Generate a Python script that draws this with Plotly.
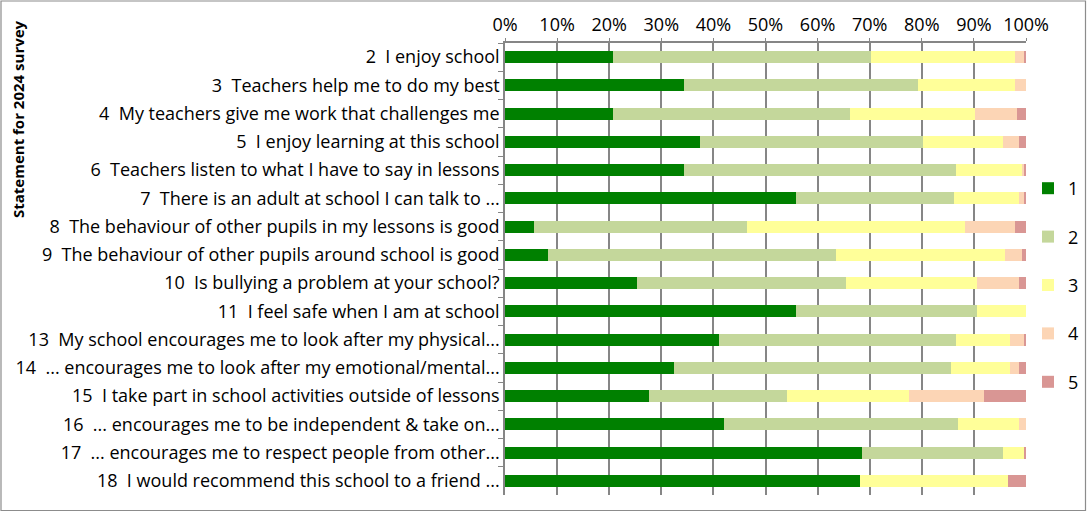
import plotly.graph_objects as go

statements = [
    "2  I enjoy school",
    "3  Teachers help me to do my best",
    "4  My teachers give me work that challenges me",
    "5  I enjoy learning at this school",
    "6  Teachers listen to what I have to say in lessons",
    "7  There is an adult at school I can talk to ...",
    "8  The behaviour of other pupils in my lessons is good",
    "9  The behaviour of other pupils around school is good",
    "10  Is bullying a problem at your school?",
    "11  I feel safe when I am at school",
    "13  My school encourages me to look after my physical...",
    "14  ... encourages me to look after my emotional/mental...",
    "15  I take part in school activities outside of lessons",
    "16  ... encourages me to be independent & take on...",
    "17  ... encourages me to respect people from other...",
    "18  I would recommend this school to a friend ...",
]

resp_1 = [20.7, 34.3, 20.7, 37.4, 34.3, 55.8, 5.5, 8.2, 25.3, 55.8, 41.0, 32.4, 27.6, 42.0, 68.5, 68.1]
resp_2 = [49.5, 45.0, 45.5, 42.8, 52.2, 30.4, 40.9, 55.3, 40.1, 34.8, 45.5, 53.2, 26.5, 44.9, 27.1, 0.0]
resp_3 = [27.7, 18.6, 24.0, 15.4, 12.7, 12.5, 41.9, 32.5, 25.2, 9.4, 10.4, 11.3, 23.4, 11.8, 4.0, 28.4]
resp_4 = [1.7, 2.1, 8.1, 3.1, 0.4, 0.9, 9.6, 3.2, 8.1, 0.0, 2.7, 1.8, 14.4, 1.3, 0.0, 0.0]
resp_5 = [0.4, 0.0, 1.7, 1.3, 0.4, 0.4, 2.1, 0.8, 1.3, 0.0, 0.4, 1.3, 8.1, 0.0, 0.4, 3.5]

series_names = ["1", "2", "3", "4", "5"]
series_values = [resp_1, resp_2, resp_3, resp_4, resp_5]
colors = ["#008000", "#C4D79B", "#FFFF99", "#FCD5B5", "#D99694"]

labels = [s.replace("  ", "\u00a0\u00a0") for s in statements]

fig = go.Figure()
for name, vals, col in zip(series_names, series_values, colors):
    fig.add_trace(go.Bar(
        y=labels, x=[v / 100 for v in vals], name=name, orientation="h",
        marker=dict(color=col, line=dict(width=0)), legendgroup=name,
        hovertemplate="%{y}: %{x:.1%}<extra>" + name + "</extra>",
    ))

FONT = "'Open Sans', Lato, sans-serif"
W, H = 1087, 512
L, R, T, B = 505, 1026, 43, 495
pw, ph = R - L, B - T

fig.update_layout(
    width=W, height=H,
    barmode="stack", bargap=0.58,
    plot_bgcolor="white", paper_bgcolor="white",
    margin=dict(l=L, r=W - R, t=T, b=H - B, autoexpand=False),
    font=dict(family=FONT, size=18, color="#000000"),
    showlegend=True,
    legend=dict(x=(1028 - L) / pw, y=(B - 170) / ph, xanchor="left", yanchor="top",
                font=dict(size=18), tracegroupgap=22, itemwidth=30,
                bgcolor="rgba(0,0,0,0)"),
    xaxis=dict(side="top", range=[0, 1], tickformat=".0%", dtick=0.1,
               showgrid=True, gridcolor="#868686", gridwidth=1.5,
               showline=True, linecolor="#868686", linewidth=1.5,
               ticks="outside", ticklen=3, tickcolor="#868686",
               zeroline=False, tickfont=dict(size=18), fixedrange=True),
    yaxis=dict(autorange="reversed", type="category",
               showline=True, linecolor="#868686", linewidth=1.5,
               ticks="outside", ticklen=5, tickcolor="#868686", tickson="boundaries",
               showgrid=False, tickfont=dict(size=18), fixedrange=True),
    shapes=[dict(type="rect", xref="paper", yref="paper",
                 x0=(1 - L) / pw, x1=(W - 1.5 - L) / pw,
                 y0=(B - (H - 1.5)) / ph, y1=(B - 1) / ph,
                 line=dict(color="#8c8c8c", width=1.2), fillcolor="rgba(0,0,0,0)", layer="below")],
    annotations=[dict(text="<b>Statement for 2024 survey</b>", textangle=-90,
                      xref="paper", yref="paper", x=(18 - L) / pw, y=(B - 119) / ph,
                      xanchor="center", yanchor="middle", showarrow=False,
                      font=dict(size=15, family=FONT))],
)

fig.write_html("out.html", config={"displayModeBar": False},
               post_script="document.body.style.margin='0';document.body.style.overflow='hidden';")
